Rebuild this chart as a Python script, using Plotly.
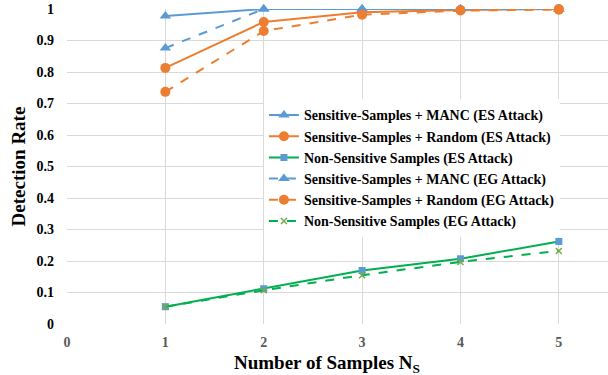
import plotly.graph_objects as go

samples = [1, 2, 3, 4, 5]
manc_es = [0.978, 1.0, 1.0, 1.0, 1.0]
random_es = [0.813, 0.959, 0.990, 0.997, 1.0]
nonsens_es = [0.055, 0.112, 0.170, 0.207, 0.262]
manc_eg = [0.876, 1.0, 1.0, 1.0, 1.0]
random_eg = [0.737, 0.930, 0.982, 0.995, 0.998]
nonsens_eg = [0.055, 0.107, 0.155, 0.197, 0.232]

names = [
    "Sensitive-Samples + MANC (ES Attack)",
    "Sensitive-Samples + Random (ES Attack)",
    "Non-Sensitive Samples (ES Attack)",
    "Sensitive-Samples + MANC (EG Attack)",
    "Sensitive-Samples + Random (EG Attack)",
    "Non-Sensitive Samples (EG Attack)",
]
x_title = "Number of Samples N<sub>S</sub>"
y_title = "Detection Rate"

BLUE = "#5B9BD5"
ORANGE = "#ED7D31"
GREEN = "#00B050"
LGREEN = "#70AD47"
SERIF = "Times New Roman, Liberation Serif, serif"

fig = go.Figure()
fig.add_trace(go.Scatter(x=samples, y=manc_es, name=names[0], mode="lines+markers",
                         line=dict(color=BLUE, width=2), marker=dict(symbol="triangle-up", size=10, color=BLUE)))
fig.add_trace(go.Scatter(x=samples, y=random_es, name=names[1], mode="lines+markers",
                         line=dict(color=ORANGE, width=2), marker=dict(symbol="circle", size=10, color=ORANGE)))
fig.add_trace(go.Scatter(x=samples, y=nonsens_es, name=names[2], mode="lines+markers",
                         line=dict(color=GREEN, width=2), marker=dict(symbol="square", size=7, color=BLUE)))
fig.add_trace(go.Scatter(x=samples, y=manc_eg, name=names[3], mode="lines+markers",
                         line=dict(color=BLUE, width=2, dash="dash"), marker=dict(symbol="triangle-up", size=10, color=BLUE)))
fig.add_trace(go.Scatter(x=samples, y=random_eg, name=names[4], mode="lines+markers",
                         line=dict(color=ORANGE, width=2, dash="dash"), marker=dict(symbol="circle", size=10, color=ORANGE)))
fig.add_trace(go.Scatter(x=samples, y=nonsens_eg, name=names[5], mode="lines+markers",
                         line=dict(color=GREEN, width=2, dash="dash"), marker=dict(symbol="x-thin", size=6, color=LGREEN, line=dict(color=LGREEN, width=1.5))))

fig.update_traces(cliponaxis=False)

fig.update_layout(
    width=608, height=375,
    margin=dict(l=67, r=0, t=9, b=51),
    paper_bgcolor="white", plot_bgcolor="white",
    font=dict(family=SERIF, color="black"),
    xaxis=dict(range=[0, 5.5], tickvals=[0, 1, 2, 3, 4, 5], showgrid=True, gridcolor="#D9D9D9", gridwidth=1,
               zeroline=False, showline=False, ticks="", automargin=False,
               tickfont=dict(family=SERIF, size=14, color="#595959", weight="bold"),
               ticklabelstandoff=8),
    yaxis=dict(range=[0, 1], tickvals=[0, 0.1, 0.2, 0.3, 0.4, 0.5, 0.6, 0.7, 0.8, 0.9, 1],
               ticktext=["0", "0.1", "0.2", "0.3", "0.4", "0.5", "0.6", "0.7", "0.8", "0.9", "1"],
               showgrid=True, gridcolor="#D9D9D9", gridwidth=1, zeroline=False, showline=False, ticks="",
               automargin=False,
               tickfont=dict(family=SERIF, size=14, color="black", weight="bold"),
               ticklabelstandoff=12,
               title=dict(text=y_title, font=dict(family=SERIF, size=19, weight="bold"), standoff=5)),
    legend=dict(x=0.364, y=0.713, xanchor="left", yanchor="top", bgcolor="white",
                font=dict(family=SERIF, size=14, weight="bold"), itemwidth=30, tracegroupgap=0),
    showlegend=True,
    annotations=[dict(text=x_title, xref="paper", yref="paper", x=0.48, y=-0.083,
                      xanchor="center", yanchor="top", showarrow=False,
                      font=dict(family=SERIF, size=19, weight="bold", color="black"))],
)

fig.write_html("out.html", config={"displayModeBar": False},
               post_script="document.body.style.margin='0';")
